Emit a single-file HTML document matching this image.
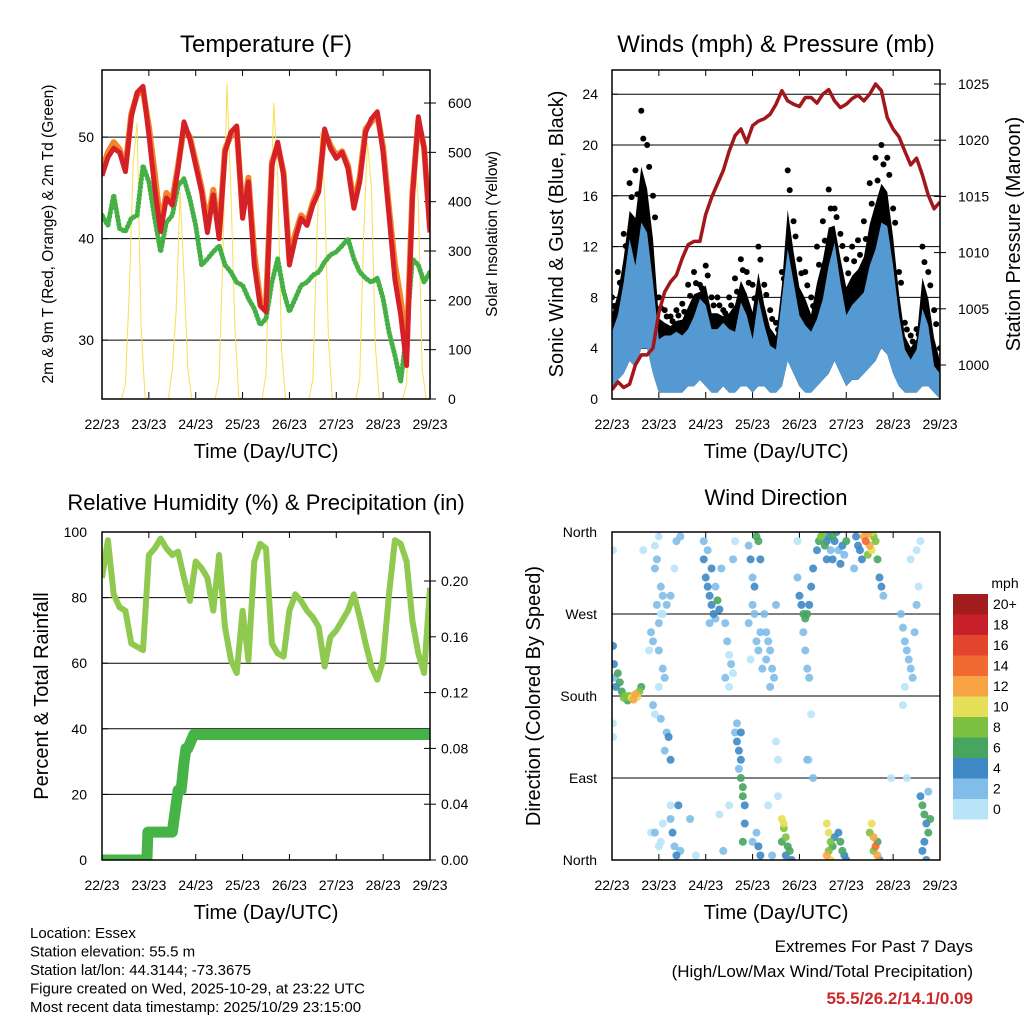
<!DOCTYPE html>
<html><head><meta charset="utf-8">
<style>
html,body{margin:0;padding:0;background:#fff;}
svg{display:block;font-family:"Liberation Sans",Arial,sans-serif;}
</style></head>
<body>
<svg id="chart" width="1024" height="1024" viewBox="0 0 1024 1024" xmlns="http://www.w3.org/2000/svg">
<defs>
<clipPath id="c1"><rect x="102" y="70" width="328" height="329"/></clipPath>
<clipPath id="c2"><rect x="612" y="70" width="328" height="329"/></clipPath>
<clipPath id="c3"><rect x="102" y="532" width="328" height="328"/></clipPath>
<clipPath id="c4"><rect x="612" y="532" width="328" height="328"/></clipPath>
</defs>
<g id="static" font-size="14" fill="#000">
<text x="266" y="52" font-size="24" text-anchor="middle">Temperature (F)</text>
<text x="776" y="52" font-size="24" text-anchor="middle">Winds (mph) &amp; Pressure (mb)</text>
<text x="266" y="510" font-size="22" text-anchor="middle">Relative Humidity (%) &amp; Precipitation (in)</text>
<text x="776" y="505" font-size="22" text-anchor="middle">Wind Direction</text>
<text transform="translate(53,234) rotate(-90)" font-size="15.5" text-anchor="middle">2m &amp; 9m T (Red, Orange) &amp; 2m Td (Green)</text>
<text transform="translate(497,234) rotate(-90)" font-size="15.5" text-anchor="middle">Solar Insolation (Yellow)</text>
<text transform="translate(563,234) rotate(-90)" font-size="20" text-anchor="middle">Sonic Wind &amp; Gust (Blue, Black)</text>
<text transform="translate(1020,234) rotate(-90)" font-size="20" text-anchor="middle">Station Pressure (Maroon)</text>
<text transform="translate(48,696) rotate(-90)" font-size="20" text-anchor="middle">Percent &amp; Total Rainfall</text>
<text transform="translate(540,696) rotate(-90)" font-size="20" text-anchor="middle">Direction (Colored By Speed)</text>
<text x="266" y="458" font-size="20" text-anchor="middle">Time (Day/UTC)</text>
<text x="776" y="458" font-size="20" text-anchor="middle">Time (Day/UTC)</text>
<text x="266" y="919" font-size="20" text-anchor="middle">Time (Day/UTC)</text>
<text x="776" y="919" font-size="20" text-anchor="middle">Time (Day/UTC)</text>
<g font-size="15">
<text x="30" y="938">Location: Essex</text>
<text x="30" y="956.5">Station elevation: 55.5 m</text>
<text x="30" y="975">Station lat/lon: 44.3144; -73.3675</text>
<text x="30" y="993.5">Figure created on Wed, 2025-10-29, at 23:22 UTC</text>
<text x="30" y="1012">Most recent data timestamp: 2025/10/29 23:15:00</text>
</g>
<g text-anchor="end" font-size="17">
<text x="973" y="952">Extremes For Past 7 Days</text>
<text x="973" y="977">(High/Low/Max Wind/Total Precipitation)</text>
<text x="973" y="1004" fill="#cc2a2a" font-weight="bold">55.5/26.2/14.1/0.09</text>
</g>
<text x="1005" y="588" font-size="14" text-anchor="middle">mph</text>
</g>
<g id="dyn"></g>
</svg>
<script>
// ---------- data (3-hourly, hours 0..168) ----------
const dayLabels = ['22/23','23/23','24/23','25/23','26/23','27/23','28/23','29/23'];
const temp2m = [46.2,48,48.9,48.5,46.6,52,54.4,55,50.2,45,40.7,44,43.3,46.9,51.5,49.8,47.2,44.6,40.6,44.3,40,48.5,50.5,51.1,42,45.6,37.4,33.4,32.8,47.2,49.5,46.2,37.4,40,42,41.3,43.3,44.6,50.8,48.9,47.9,48.5,46.9,43,45.6,50.5,51.8,52.5,48.5,42.3,36,32.5,27.5,44,52,48.9,40.6];
const temp9m = [46.8,48.5,49.5,48.8,47,52.3,54.2,54.6,51,46.5,41.2,44.5,43.8,47.2,51,50,47.6,45,41.5,44.8,40.5,48.8,50.2,50.8,42.5,46,38.5,34,33.5,47.5,49.2,46.5,38,40.5,42.3,41.6,43.6,45,50.5,49.2,48.2,48.6,47.2,43.5,46,50.8,51.5,52.2,49,43,37.5,34,29,44.5,51.6,49,41];
const dewpoint = [42.3,41.3,44.3,41,40.7,42,42.3,47.2,45.6,42,38.7,41.6,42.3,45.2,45.9,43.9,41.3,37.4,38,38.7,39.3,37.4,36.7,35.7,35.4,34.1,33.1,31.5,32.1,35.7,38,34.8,32.8,34.1,35.4,35.7,36.4,36.7,37.7,38.4,38.7,39.3,40,38,36.7,36.1,35.7,36.1,34.1,30.8,28.5,25.9,30.8,38,37.4,35.7,36.7];
// solar, 2-hourly (hours 0..168)
const solar = [0,0,0,0,0,0,30,220,480,560,150,5, 0,0,0,0,0,0,60,180,420,250,60,0, 0,0,0,0,0,0,40,300,640,420,150,5, 0,0,0,0,0,0,50,350,600,450,100,0, 0,0,0,0,0,0,40,320,540,420,120,0, 0,0,0,0,0,0,40,330,520,430,110,0, 0,0,0,0,0,0,30,300,500,400,60,0, 0];
const windHigh = [5.3,6.6,9.2,12.6,10.5,13.9,13.1,9.2,4.7,5,5,5.3,5,5.5,6.5,7.9,7.4,5.5,5.5,6,5.5,5.3,7.6,6.6,4.7,7.9,5.8,4.2,3.9,7.9,11.8,9.2,6.6,5.8,5.3,6.3,7.9,10.5,12.3,9.2,6.6,7.4,7.9,8.4,10.5,11.8,13.9,13.6,10.5,6.6,3.9,3.1,3.9,7.1,5.8,2.6,2];
const windLow = [1,1.5,2,3,2.5,4,4,2,0.5,0.5,0.5,0.5,0.5,1,1,1.5,1,0.5,0.5,1,0.5,0.5,1,1,0.5,1,1,0.5,0.5,1,3,2,1,0.5,0.5,1,1.5,2,3,2,1,1.5,1.5,2,2.5,3,4,3.5,2,1,0.5,0.5,0.5,1,1,0.5,0];
const gust = [8,10,13,17,18,22.7,20,16,8,7,6.5,7,7.5,9,10,9,10.5,8,8,7,8,9.5,11,10,9,12,9,7,6,10,18,14,11,10,8,12,14,16.5,15,13,11,12,12.5,14,17,19,20,19,15,10,6,5,5.5,12,10,7,4];
const pressure = [997.8,998.5,998,998.3,1000,1000.9,1000.9,1001.5,1004.7,1006.5,1007.4,1008,1009.5,1010.7,1011,1011,1013.4,1014.9,1016.1,1017.3,1019,1020.4,1021,1019.8,1021.3,1021.7,1021.9,1022.3,1023.2,1024.4,1023.5,1023.2,1023,1023.8,1023.8,1023.3,1024.1,1024.5,1023.5,1022.9,1023.2,1023.7,1024,1023.5,1024.1,1025,1024.4,1022,1021,1020.3,1019,1017.8,1018.4,1016.9,1015.1,1013.9,1014.5];
const relHumidity = [86,97.5,81,77,76,66,65,64,93,95,98,95,93,94,86,79,91,89,86,76,93,71,61,57,76,61,91,96.4,95,66,63,62,76,81,79,76,74,71,59,68,70,73,76,81,74,66,59,55,61,81,97.5,96.4,91,73,63,57,83];
const precipHours = [0,23,23.5,36,37,39,40.5,42,43,44,47,168];
const precipTotal = [0,0,0.02,0.02,0.03,0.05,0.05,0.07,0.08,0.08,0.09,0.09];
// wind direction observations: [hour, degrees, mph]
const windDirObs = [[0.5,235,4],[1,215,4],[1.5,200,3],[2,190,5],[3,205,6],[4,195,6],[5,185,7],[6,178,8],[7,180,8],[8,175,7],[9,180,9],[10,178,10],[11,176,12],[12,182,12],[13,179,11],[14,185,9],[15,190,7],[0.5,150,1],[0.5,135,0],[0.5,340,0],
[23,330,2],[22,345,1],[24,355,1],[22,320,3],[25,300,2],[26,270,1],[24,260,2],[23,280,3],[20,250,3],[21,240,2],[19,230,1],[24,230,2],[26,210,3],[27,200,2],[24,190,1],[22,160,1],[21,170,2],[25,155,3],[28,140,2],[27,120,3],[29,135,4],[30,110,4],[28,280,2],[30,290,2],[32,320,1],[33,350,2],[35,355,3],[22,30,2],[24,15,1],[26,40,1],[30,45,3],[31,30,4],[32,15,3],[33,5,4],[34,60,4],[25,270,1],[26,290,2],[16,340,1],
[47,330,4],[48,310,4],[49,300,5],[50,290,4],[51,280,5],[52,270,4],[53,300,3],[54,285,6],[55,275,4],[47,350,3],[49,340,3],[56,320,2],[51,320,4],[53,265,3],[50,260,2],
[58,260,2],[59,240,2],[60,225,1],[61,215,2],[62,205,1],[58,200,2],[60,190,1],[63,350,1],[62,330,2],
[63,140,3],[64,130,4],[65,120,4],[66,110,4],[66,90,6],[67,80,6],[67,70,7],[68,60,5],[68,40,4],[67,20,6],[66,140,4],[64,150,3],[65,100,3],
[70,345,3],[71,330,4],[72,310,3],[73,300,5],[74,355,7],[75,350,6],[76,330,4],[73,270,2],[74,240,3],[75,230,2],[77,210,2],[76,250,3],[70,260,2],[72,280,3],[71,220,1],[72,20,2],[74,30,3],[75,15,4],[76,5,4],
[78,270,3],[79,250,2],[80,240,3],[81,230,3],[82,210,2],[83,200,2],[79,220,2],[84,280,3],[81,190,2],[84,130,1],[85,110,1],
[87,45,10],[88,40,11],[88,35,9],[89,25,8],[90,15,7],[91,10,6],[87,20,7],[89,5,5],[92,0,4],
[95,310,3],[96,290,4],[97,280,5],[98,270,6],[99,265,7],[100,270,6],[101,280,4],[102,300,4],[103,320,4],[98,250,3],[99,230,2],[100,210,2],[101,200,2],[102,160,1],[103,90,3],[100,110,2],[95,350,1],
[105,340,4],[106,350,6],[107,355,8],[108,358,9],[109,345,7],[110,350,5],[111,355,4],[112,340,3],[113,330,4],[114,350,5],[115,360,4],[116,340,3],[117,325,4],[110,330,5],[113,355,6],[118,345,4],[119,335,3],[120,350,6],
[110,40,10],[111,30,11],[112,20,9],[111,10,8],[110,5,12],[112,0,10],[113,15,6],[114,25,5],[116,30,5],[117,20,6],[118,10,7],[119,5,5],[120,0,4],
[129,355,12],[130,350,14],[131,358,13],[132,345,12],[133,340,10],[134,355,9],[135,350,8],[127,340,5],[128,330,4],[136,330,6],[137,310,4],[138,300,4],[139,290,3],[125,355,4],[126,345,5],[124,320,3],[131,335,9],[133,360,11],
[133,40,10],[134,25,12],[135,15,14],[136,5,12],[134,10,8],[136,20,6],[137,0,4],[132,30,8],
[148,270,2],[149,255,2],[150,240,3],[151,230,2],[152,220,2],[153,210,2],[154,200,2],[155,250,3],[156,280,2],[157,300,1],[150,190,1],[153,330,1],[156,340,1],[158,350,1],[149,170,1],[151,90,1],
[158,70,4],[159,60,6],[160,50,6],[161,40,5],[162,30,6],[160,20,5],[159,10,4],[161,0,4],[163,45,7],[162,75,3],
[25,20,1],[30,60,1],[35,10,2],[40,45,2],[43,5,1],[20,30,0],[55,50,1],[60,60,1],[57,10,2],[80,60,1],[85,70,1],[82,5,2],[101,110,1],[143,90,0]];
const speedLabels = ['20+','18','16','14','12','10','8','6','4','2','0'];
const speedColors = ['#a01c1f','#c8202a','#e2462d','#f06a32','#f8a444','#e6df58','#7dc142','#47a55f','#3d88c5','#80bde8','#b9e4f8'];
const temp1Ticks=[30,40,50], solarTicks=[0,100,200,300,400,500,600], windTicks=[0,4,8,12,16,20,24], presTicks=[1000,1005,1010,1015,1020,1025], rhTicks=[0,20,40,60,80,100], prTicks=[0,0.04,0.08,0.12,0.16,0.2], dirTicks=[0,90,180,270,360], dirNames=['North','East','South','West','North'];

// ---------- scales ----------
const NS='http://www.w3.org/2000/svg';
const root=document.getElementById('dyn');
function mk(tag,attrs,parent){const e=document.createElementNS(NS,tag);for(const k in attrs)e.setAttribute(k,attrs[k]);(parent||root).appendChild(e);return e;}
const xA=h=>102+h*328/168, xB=h=>612+h*328/168;
const yT=t=>399-(t-24.2)*10.15, yS=s=>399-s*0.4933;
const yW=w=>399-w*12.7, yP=p=>365-(p-1000)*11.24;
const yR=r=>860-r*3.28, yPr=v=>860-v*1395;
const yD=d=>860-d*328/360;
const hrs3=i=>i*3, hrs2=i=>i*2;
function pts(arr,xf,yf,hf){return arr.map((v,i)=>xf(hf(i)).toFixed(1)+','+yf(v).toFixed(1)).join(' ');}

function frame(x0,y0,name,gridY,gridVals,leftLabels,leftFmt,lx,rightVals,rightY,rightFmt,rx,xlabY){
  const g=mk('g',{});
  
  
  gridVals.forEach(v=>{const l=mk('line',{x1:x0,x2:x0+328,y1:gridY(v),y2:gridY(v),stroke:'#000','stroke-width':1},g);
    
    });
  leftLabels.forEach(v=>{const t=mk('text',{x:lx,y:gridY(v)+5,'text-anchor':'end','font-size':14},g);t.textContent=leftFmt(v);
    
    
    mk('line',{x1:x0,x2:x0+6,y1:gridY(v),y2:gridY(v),stroke:'#000'},g);});
  rightVals.forEach(v=>{const t=mk('text',{x:rx,y:rightY(v)+5,'font-size':14},g);t.textContent=rightFmt(v);
    
    
    mk('line',{x1:x0+328,x2:x0+322,y1:rightY(v),y2:rightY(v),stroke:'#000'},g);
    mk('line',{x1:x0+328,x2:x0+334,y1:rightY(v),y2:rightY(v),stroke:'#000'},g);});
  dayLabels.forEach((d,i)=>{const x=x0+i*328/7;
    mk('line',{x1:x,x2:x,y1:y0+328,y2:y0+322,stroke:'#000'},g);
    mk('line',{x1:x,x2:x,y1:y0,y2:y0+6,stroke:'#000'},g);
    const t=mk('text',{x:x,y:xlabY,'text-anchor':'middle','font-size':14},g);t.textContent=d;
    
    });
  return g;
}
function border(x0,y0,h){const r=mk('rect',{x:x0,y:y0,width:328,height:h,fill:'none',stroke:'#000','stroke-width':1.5});
  
  }

// ---------- Panel 1: temperature ----------
frame(102,70,'temperature',yT,temp1Ticks,temp1Ticks,v=>v,94,solarTicks,yS,v=>v,448,429);
const g1=mk('g',{'clip-path':'url(#c1)'});


let e;
e=mk('polyline',{points:pts(solar,xA,yS,hrs2),fill:'none',stroke:'#f7df55','stroke-width':1},g1);


e=mk('polyline',{points:pts(dewpoint,xA,yT,hrs3),fill:'none',stroke:'#45b045','stroke-width':5,'stroke-dasharray':'1 3','stroke-linecap':'round','stroke-linejoin':'round'},g1);


e=mk('polyline',{points:pts(temp9m,xA,yT,hrs3),fill:'none',stroke:'#f4842a','stroke-width':6,'stroke-linejoin':'round'},g1);


e=mk('polyline',{points:pts(temp2m,xA,yT,hrs3),fill:'none',stroke:'#d42026','stroke-width':5,'stroke-linejoin':'round'},g1);


border(102,70,329);

// ---------- Panel 2: winds & pressure ----------
frame(612,70,'winds',yW,windTicks.slice(1),windTicks,v=>v,598,presTicks,yP,v=>v,958,429);
const g2=mk('g',{'clip-path':'url(#c2)'});


const midPts=gust.map((v,i)=>xB(hrs3(i)).toFixed(1)+','+yW((v+windHigh[i])/2).toFixed(1));
const lowBack=windLow.map((v,i)=>xB(hrs3(i)).toFixed(1)+','+yW(v).toFixed(1)).reverse();
e=mk('polygon',{points:midPts.concat(lowBack).join(' '),fill:'#000'},g2);


gust.forEach((v,i)=>{
  const c=mk('circle',{cx:xB(hrs3(i)),cy:yW(v),r:3,fill:'#000'},g2);
  
  
  const c2=mk('circle',{cx:xB(hrs3(i))+2,cy:yW((3*v+windHigh[i])/4),r:3,fill:'#000'},g2);
  
  
});
const hiPts=windHigh.map((v,i)=>xB(hrs3(i)).toFixed(1)+','+yW(v).toFixed(1));
e=mk('polygon',{points:hiPts.concat(lowBack).join(' '),fill:'#5599d2'},g2);


e=mk('polyline',{points:pts(pressure,xB,yP,hrs3),fill:'none',stroke:'#a0181c','stroke-width':3.5,'stroke-linejoin':'round'},g2);


border(612,70,329);

// ---------- Panel 3: RH & precip ----------
frame(102,532,'humidity',yR,[20,40,60,80],rhTicks,v=>v,87,prTicks,yPr,v=>v.toFixed(2),441,890);
const g3=mk('g',{'clip-path':'url(#c3)'});


e=mk('polyline',{points:pts(relHumidity,xA,yR,hrs3),fill:'none',stroke:'#8fc94f','stroke-width':6,'stroke-linejoin':'round'},g3);


e=mk('polyline',{points:precipTotal.map((v,i)=>xA(precipHours[i]).toFixed(1)+','+yPr(v).toFixed(1)).join(' '),fill:'none',stroke:'#46b347','stroke-width':11,'stroke-linecap':'round','stroke-linejoin':'round'},g3);


border(102,532,328);

// ---------- Panel 4: wind direction ----------
const g4a=frame(612,532,'direction',yD,[90,180,270],[],v=>v,0,[],yD,v=>v,0,890);
dirTicks.forEach((d,i)=>{const t=mk('text',{x:597,y:yD(d)+5,'text-anchor':'end','font-size':14},g4a);t.textContent=dirNames[i];
  
  });
const g4=mk('g',{'clip-path':'url(#c4)'});


function bin(s){return Math.max(0,Math.min(10,10-Math.floor(s/2)));}
windDirObs.slice().sort((a,b)=>a[2]-b[2]).forEach(o=>{
  const c=mk('circle',{cx:xB(o[0]),cy:yD(o[1]),r:4,fill:speedColors[bin(o[2])],'fill-opacity':0.9},g4);
  
  });
border(612,532,328);

// colorbar
speedLabels.forEach((lab,i)=>{
  const r=mk('rect',{x:953,y:594+i*20.5,width:35,height:20.5,fill:speedColors[i]});
  
  
  const t=mk('text',{x:993,y:594+i*20.5+15,'font-size':14});t.textContent=lab;
  
  
});
</script>
</body></html>
